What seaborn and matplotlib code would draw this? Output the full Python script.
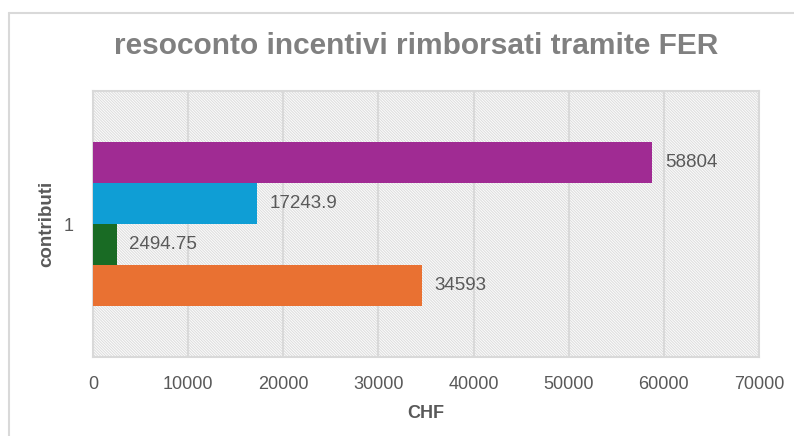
import matplotlib
matplotlib.use("Agg")
import matplotlib.pyplot as plt
import seaborn as sns
import pandas as pd
from matplotlib.patches import Rectangle
from matplotlib.lines import Line2D

# ---- data ----
categories = ["1"]
series_names = ["Serie 1", "Serie 2", "Serie 3", "Serie 4"]
series_values = [34593, 2494.75, 17243.9, 58804]
series_colors = ["#E97132", "#196B24", "#0F9ED5", "#A02B93"]
value_labels = ["34593", "2494.75", "17243.9", "58804"]
x_ticks = [0, 10000, 20000, 30000, 40000, 50000, 60000, 70000]

title = "resoconto incentivi rimborsati tramite FER"
x_label = "CHF"
y_label = "contributi"

sns.set_theme(style="white")
plt.rcParams["font.family"] = ["Liberation Sans", "DejaVu Sans"]
plt.rcParams["hatch.linewidth"] = 0.8

df = pd.DataFrame({
    "categoria": categories * len(series_names),
    "serie": series_names,
    "valore": series_values,
})

# top-to-bottom order: last series first (Excel style)
hue_order = series_names[::-1]
palette = dict(zip(series_names, series_colors))

fig = plt.figure(figsize=(7.94, 4.36), dpi=100)
ax = fig.add_axes([93 / 794, 1 - 357 / 436, (759 - 93) / 794, (357 - 91) / 436])

# hatched plot-area background
bg = Rectangle((0, 0), 1, 1, transform=ax.transAxes, facecolor="white",
               edgecolor="#dedede", hatch="\\" * 12, linewidth=0, zorder=0)
ax.add_patch(bg)

sns.barplot(data=df, y="categoria", x="valore", hue="serie", hue_order=hue_order,
            palette=palette, orient="h", width=0.617, saturation=1,
            legend=False, ax=ax, zorder=3)

for cont in ax.containers:
    for bar in cont:
        bar.set_edgecolor("none")

lab_map = dict(zip(series_names, value_labels))
for cont, name in zip(ax.containers, hue_order):
    ax.bar_label(cont, labels=[lab_map[name]], padding=9, fontsize=13.5,
                 color="#595959")

ax.set_xlim(0, 70000)
ax.set_ylim(0.5, -0.5)
ax.set_xticks(x_ticks)
ax.set_xticklabels([str(t) for t in x_ticks])
ax.tick_params(axis="x", length=0, pad=14, labelsize=13, labelcolor="#595959")
ax.set_yticks([0])
ax.set_yticklabels(categories)
ax.set_yticks([-0.5, 0.5], minor=True)
ax.tick_params(axis="y", which="major", length=0, pad=14, labelsize=13,
               labelcolor="#595959")
ax.tick_params(axis="y", which="minor", length=5, width=1.5, color="#d9d9d9")

ax.grid(axis="x", color="#d9d9d9", linewidth=1.5, zorder=1)
ax.set_axisbelow(True)
for s in ax.spines.values():
    s.set_visible(True)
    s.set_color("#d9d9d9")
    s.set_linewidth(1.5)

ax.set_xlabel(x_label, fontsize=13, fontweight="bold", color="#595959", labelpad=8)
ax.set_ylabel(y_label, fontsize=13.5, fontweight="bold", color="#595959", labelpad=6)

fig.text(416 / 794, 1 - 46 / 436, title, ha="center", va="center",
         fontsize=21.5, fontweight="bold", color="#808080")

# chart border (left and top visible)
fig.add_artist(Line2D([9 / 794, 9 / 794], [0, 1 - 13 / 436], color="#d9d9d9",
                      linewidth=1.5, transform=fig.transFigure))
fig.add_artist(Line2D([9 / 794, 1], [1 - 13 / 436, 1 - 13 / 436], color="#d9d9d9",
                      linewidth=1.5, transform=fig.transFigure))

fig.savefig("out.png", dpi=100, facecolor="white")
